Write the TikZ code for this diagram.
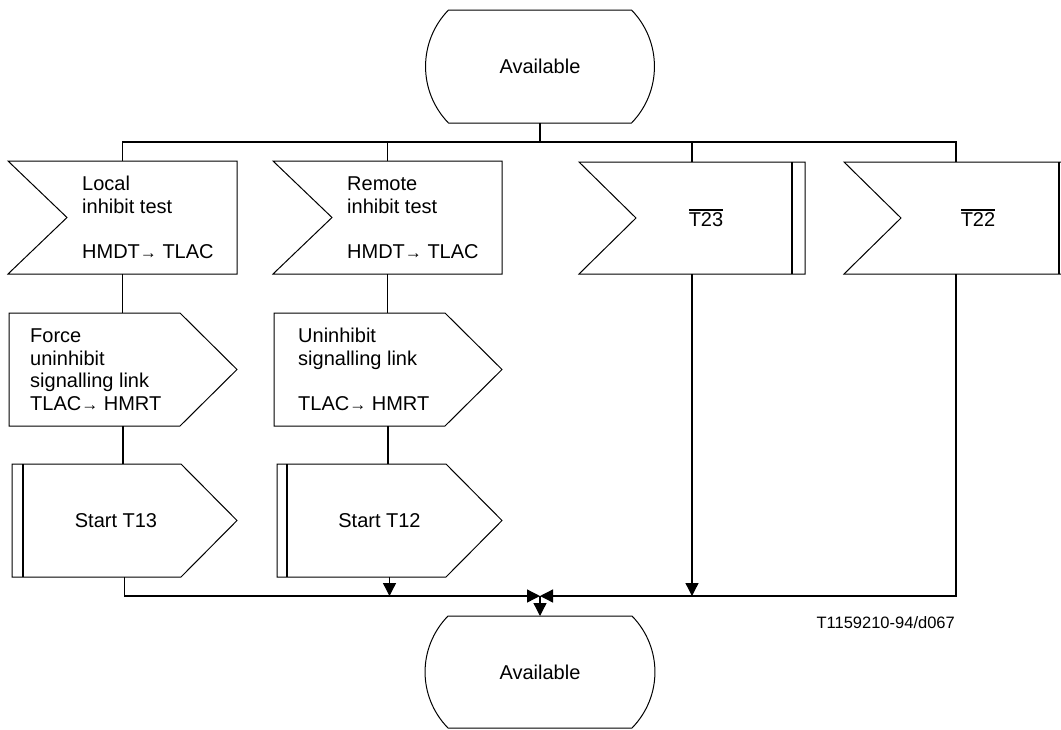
\documentclass[tikz,border=0pt]{standalone}
\usepackage{fontspec}
\setmainfont{Liberation Sans}
\usetikzlibrary{arrows.meta,calc}
\newcommand{\myarr}{{\fontsize{17}{17}\selectfont →}}
\newcommand{\ovl}[1]{\vbox{\hrule height 1.6pt\kern1.8pt\hbox{#1}}}
\begin{document}
\begin{tikzpicture}[x=1pt,y=-1pt,
  shp/.style={draw=none, rectangle, inner sep=0pt, outer sep=0pt, font=\fontsize{20}{22.5}\selectfont},
  outl/.style={line width=1pt, line join=miter},
  bar/.style={line width=2pt},
  conn/.style={line width=1.3pt},
  arr/.style={conn, -{Triangle[length=13pt,width=13pt]}},
  txt/.style={font=\fontsize{20}{22.5}\selectfont, inner sep=0pt, align=left},
]
\useasboundingbox (0,0) rectangle (1061,729);
\clip (0,0) rectangle (1061,729);

% states
\node[shp, minimum width=183pt, minimum height=113pt] (s1) at (540,66.5) {Available};
\draw[outl] (s1.north west) -- (s1.north east) .. controls +(30.6,31.4) and +(30.6,-31.4) .. (s1.south east) -- (s1.south west) .. controls +(-30.6,-31.4) and +(-30.6,31.4) .. (s1.north west) -- cycle;

\node[shp, minimum width=184pt, minimum height=112pt] (s2) at (540,672) {Available};
\draw[outl] (s2.north west) -- (s2.north east) .. controls +(30.6,31.4) and +(30.6,-31.4) .. (s2.south east) -- (s2.south west) .. controls +(-30.6,-31.4) and +(-30.6,31.4) .. (s2.north west) -- cycle;

% inputs
\node[shp, minimum width=229pt, minimum height=113pt] (local) at (122.5,217.5) {};
\draw[outl] (local.north west) -- (local.north east) -- (local.south east) -- (local.south west) -- ($(local.west)+(59,0)$) -- cycle;
\node[txt, anchor=west] (localt) at (82,217.5) {Local\\inhibit test\\[22.5pt]HMDT\myarr\ TLAC};

\node[shp, minimum width=229pt, minimum height=113pt] (remote) at (387.5,217.5) {};
\draw[outl] (remote.north west) -- (remote.north east) -- (remote.south east) -- (remote.south west) -- ($(remote.west)+(59,0)$) -- cycle;
\node[txt, anchor=west] (remotet) at (347,217.5) {Remote\\inhibit test\\[22.5pt]HMDT\myarr\ TLAC};

\node[shp, minimum width=226pt, minimum height=112pt] (t23) at (692,218) {};
\draw[outl] (t23.north west) -- (t23.north east) -- (t23.south east) -- (t23.south west) -- ($(t23.west)+(57,0)$) -- cycle;
\draw[bar] ($(t23.north east)+(-13,0)$) -- ($(t23.south east)+(-13,0)$);
\node[txt] (t23t) at (706,218) {\ovl{T23}};

\node[shp, minimum width=224pt, minimum height=112pt] (t22) at (956,218) {};
\draw[outl] (t22.north west) -- (t22.north east) -- (t22.south east) -- (t22.south west) -- ($(t22.west)+(57,0)$) -- cycle;
\draw[bar] ($(t22.north east)+(-9,0)$) -- ($(t22.south east)+(-9,0)$);
\node[txt] (t22t) at (978,218) {\ovl{T22}};

% outputs
\node[shp, minimum width=228pt, minimum height=113pt] (force) at (123,369.5) {};
\draw[outl] (force.north west) -- ($(force.north east)+(-57,0)$) -- (force.east) -- ($(force.south east)+(-57,0)$) -- (force.south west) -- cycle;
\node[txt, anchor=west] (forcet) at (30,369.5) {Force\\uninhibit\\signalling link\\TLAC\myarr\ HMRT};

\node[shp, minimum width=228pt, minimum height=113pt] (unin) at (388,369.5) {};
\draw[outl] (unin.north west) -- ($(unin.north east)+(-57,0)$) -- (unin.east) -- ($(unin.south east)+(-57,0)$) -- (unin.south west) -- cycle;
\node[txt, anchor=west] (unint) at (298,369.5) {Uninhibit\\signalling link\\[22.5pt]TLAC\myarr\ HMRT};

% timer outputs
\node[shp, minimum width=225pt, minimum height=113pt] (st13) at (124.5,520.5) {};
\draw[outl] (st13.north west) -- ($(st13.north east)+(-56,0)$) -- (st13.east) -- ($(st13.south east)+(-56,0)$) -- (st13.south west) -- cycle;
\draw[bar] ($(st13.north west)+(11,0)$) -- ($(st13.south west)+(11,0)$);
\node[txt] (st13t) at (116,521) {Start T13};

\node[shp, minimum width=225pt, minimum height=113pt] (st12) at (389.5,520.5) {};
\draw[outl] (st12.north west) -- ($(st12.north east)+(-56,0)$) -- (st12.east) -- ($(st12.south east)+(-56,0)$) -- (st12.south west) -- cycle;
\draw[bar] ($(st12.north west)+(10,0)$) -- ($(st12.south west)+(10,0)$);
\node[txt] (st12t) at (379.5,521) {Start T12};

% connectors
\coordinate (bt) at (540,142);
\coordinate (bb) at (540,596);
\draw[conn] (s1.south) -- (bt);
\draw[conn] (local.north) -- (local.north |- bt) -- (t22.north |- bt) -- (t22.north);
\draw[conn] (remote.north) -- (remote.north |- bt);
\draw[conn] (t23.north) -- (t23.north |- bt);
\draw[conn] (local.south) -- (local.south |- force.north);
\draw[conn] (force.south) -- (force.south |- st13.north);
\draw[conn] (remote.south) -- (remote.south |- unin.north);
\draw[conn] (unin.south) -- (unin.south |- st12.north);
\draw[arr] (st13.south) -- (st13.south |- bb) -- (bb);
\draw[arr] (st12.south) -- (st12.south |- bb);
\draw[arr] (t23.south) -- (t23.south |- bb);
\draw[arr] (t22.south) -- (t22.south |- bb) -- (bb);
\draw[arr] (bb) -- (s2.north);

\node[anchor=east, font=\fontsize{16.5}{18}\selectfont, inner sep=0pt] (lbl) at (955,623) {T1159210-94/d067};
\end{tikzpicture}
\end{document}
